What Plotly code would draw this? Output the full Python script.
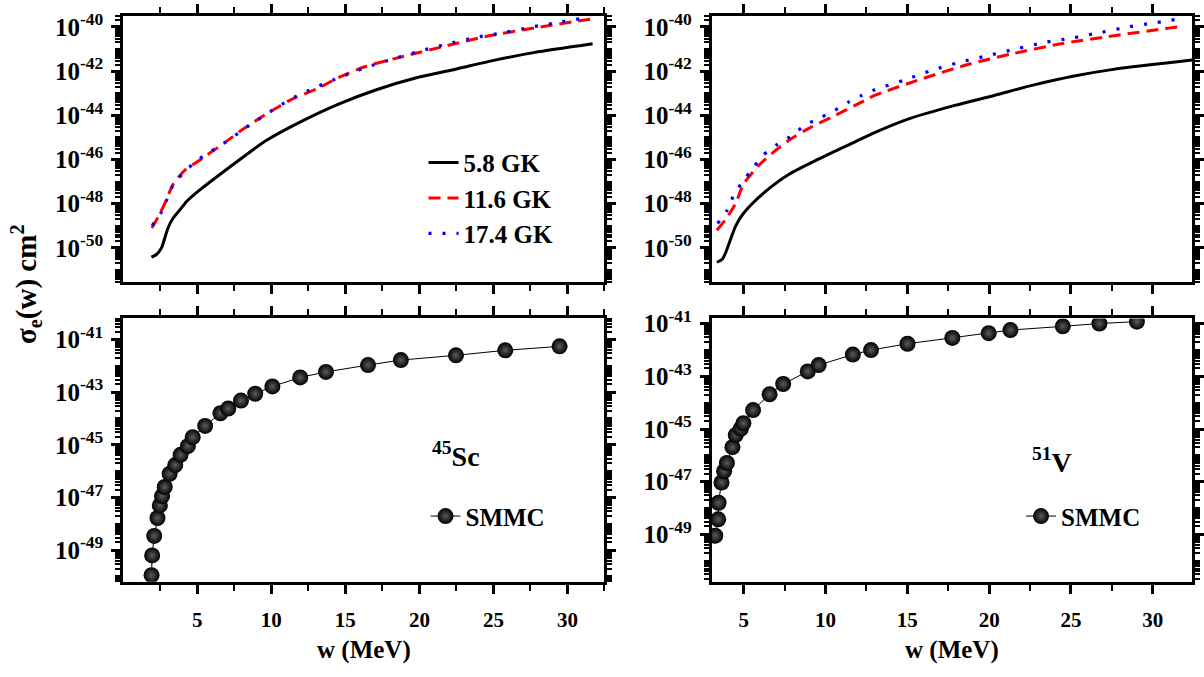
import numpy as np
import plotly.graph_objects as go

# ---------------- data (y values are log10 of sigma in cm^2) -------------
# 45Sc, temperature curves
sc_w_58 = [1.90, 2.24, 2.58, 2.80, 3.02, 3.35, 3.80, 4.25, 5.13, 7.33, 9.60, 11.8, 14.5, 17.1, 19.8, 22.5, 25.1, 27.8, 31.7]
sc_l_58 = [-50.42, -50.30, -50.00, -49.56, -49.10, -48.67, -48.30, -47.92, -47.40, -46.27, -45.16, -44.35, -43.50, -42.84, -42.30, -41.90, -41.50, -41.15, -40.76]

sc_w_116 = [1.93, 2.47, 2.93, 3.33, 4.13, 5.00, 6.93, 7.80, 9.60, 11.6, 13.1, 14.5, 16.3, 19.1, 21.9, 24.7, 27.8, 31.6]
sc_l_116 = [-49.10, -48.45, -47.80, -47.16, -46.50, -46.10, -45.20, -44.76, -43.96, -43.20, -42.80, -42.30, -41.80, -41.30, -40.84, -40.40, -40.04, -39.64]

sc_w_174 = [1.95, 2.53, 2.95, 3.35, 4.13, 5.07, 5.98, 6.95, 7.85, 8.80, 9.75, 10.69, 11.58, 12.53, 14.47, 16.36, 18.25, 20.15, 21.9, 23.8, 25.7, 27.6, 29.5, 31.4]
sc_l_174 = [-48.99, -48.43, -47.80, -47.18, -46.55, -46.00, -45.60, -45.20, -44.77, -44.33, -43.91, -43.51, -43.17, -42.87, -42.32, -41.84, -41.44, -41.07, -40.77, -40.47, -40.25, -40.00, -39.78, -39.56]

# 51V, temperature curves
v_w_58 = [3.36, 3.70, 3.90, 4.20, 4.51, 4.92, 5.53, 6.54, 7.70, 9.80, 11.8, 13.0, 15.0, 17.9, 20.3, 22.75, 25.2, 27.6, 32.4]
v_l_58 = [-50.65, -50.50, -50.20, -49.60, -49.00, -48.50, -47.99, -47.32, -46.70, -45.90, -45.20, -44.78, -44.18, -43.55, -43.10, -42.62, -42.22, -41.92, -41.50]

v_w_116 = [3.36, 3.90, 4.50, 5.00, 6.15, 7.70, 8.95, 10.6, 12.2, 13.0, 16.1, 18.7, 21.5, 24.4, 27.2, 31.9]
v_l_116 = [-49.20, -48.70, -48.00, -47.10, -46.10, -45.16, -44.60, -44.00, -43.40, -43.10, -42.30, -41.70, -41.20, -40.76, -40.44, -39.96]

v_w_174 = [3.40, 4.00, 4.40, 4.94, 5.55, 6.20, 7.07, 7.98, 8.77, 9.70, 10.5, 11.4, 12.2, 13.0, 14.85, 16.5, 18.2, 19.9, 21.6, 23.4, 25.06, 26.8, 28.5, 30.2, 31.95]
v_l_174 = [-48.90, -48.27, -47.60, -47.00, -46.40, -45.80, -45.30, -44.90, -44.44, -44.10, -43.80, -43.40, -43.10, -42.84, -42.40, -41.96, -41.60, -41.30, -41.00, -40.70, -40.50, -40.25, -40.00, -39.80, -39.60]

# SMMC points
sc_smmc_w = [1.91, 1.95, 2.09, 2.31, 2.47, 2.62, 2.80, 3.13, 3.51, 3.87, 4.36, 4.69, 5.53, 6.56, 7.09, 7.95, 8.91, 10.07, 11.95, 13.69, 16.53, 18.75, 22.47, 25.8, 29.47]
sc_smmc_l = [-49.95, -49.20, -48.46, -47.78, -47.30, -46.95, -46.60, -46.10, -45.77, -45.38, -45.05, -44.71, -44.28, -43.80, -43.62, -43.32, -43.06, -42.78, -42.44, -42.23, -41.97, -41.78, -41.60, -41.41, -41.26]

v_smmc_w = [3.26, 3.44, 3.46, 3.64, 3.80, 3.97, 4.31, 4.51, 4.82, 4.98, 5.57, 6.58, 7.41, 8.91, 9.58, 11.67, 12.78, 15.01, 17.75, 19.97, 21.3, 24.5, 26.74, 29.03]
v_smmc_l = [-49.05, -48.43, -47.80, -47.03, -46.60, -46.29, -45.69, -45.23, -44.99, -44.78, -44.28, -43.68, -43.29, -42.81, -42.57, -42.17, -42.00, -41.76, -41.54, -41.36, -41.24, -41.10, -40.99, -40.92]

x_ticks = [5, 10, 15, 20, 25, 30]
x_minor = [2.5, 7.5, 12.5, 17.5, 22.5, 27.5, 32.5]
top_decades = [-40, -42, -44, -46, -48, -50]
bottom_decades = [-41, -43, -45, -47, -49]
temp_names = ["5.8 GK", "11.6 GK", "17.4 GK"]

# ---------------- figure ----------------
FONT = "Liberation Serif"
W, H = 1204, 677


def pv(logs):
    return [10.0 ** v for v in logs]


fig = go.Figure()

line_styles = [
    dict(color="black", width=3),
    dict(color="#ff0000", width=3, dash="12px,7px"),
    dict(color="#0000ff", width=3.2, dash="3px,11px"),
]

for (wv, lv), st, nm in zip([(sc_w_58, sc_l_58), (sc_w_116, sc_l_116), (sc_w_174, sc_l_174)], line_styles, temp_names):
    fig.add_trace(go.Scatter(x=wv, y=pv(lv), mode="lines", name=nm,
                             line=dict(shape="spline", smoothing=0.6, **st),
                             xaxis="x", yaxis="y", legend="legend"))
for (wv, lv), st, nm in zip([(v_w_58, v_l_58), (v_w_116, v_l_116), (v_w_174, v_l_174)], line_styles, temp_names):
    fig.add_trace(go.Scatter(x=wv, y=pv(lv), mode="lines", name=nm, showlegend=False,
                             line=dict(shape="spline", smoothing=0.8, **st),
                             xaxis="x2", yaxis="y2"))

sphere = dict(size=16, color="#000000", gradient=dict(type="radial", color="#5c5c5c"),
              line=dict(width=0))
fig.add_trace(go.Scatter(x=sc_smmc_w, y=pv(sc_smmc_l), mode="lines+markers", name="SMMC",
                         marker=sphere, line=dict(color="black", width=1),
                         xaxis="x3", yaxis="y3", legend="legend2"))
fig.add_trace(go.Scatter(x=v_smmc_w, y=pv(v_smmc_l), mode="lines+markers", name="SMMC",
                         marker=sphere, line=dict(color="black", width=1),
                         xaxis="x4", yaxis="y4", legend="legend3"))

tickfont = dict(family=FONT, size=25, color="black", weight="bold")
xtickfont = dict(family=FONT, size=21, color="black", weight="bold")


def xaxis(domain, rng, labels, anchor):
    return dict(domain=domain, range=rng, anchor=anchor,
                tickmode="array", tickvals=x_ticks, showticklabels=labels,
                ticks="outside", ticklen=9, tickwidth=2.5, tickcolor="black",
                minor=dict(tickvals=x_minor, ticks="outside", ticklen=6, tickwidth=2, tickcolor="black"),
                showline=True, linewidth=3, linecolor="black", mirror="allticks",
                showgrid=False, zeroline=False, tickfont=xtickfont, ticklabelstandoff=8)


def yaxis(domain, rng, decades, anchor):
    minor_vals = []
    for k in range(-53, -37):
        for m in range(1, 10):
            if m == 1 and k in decades:
                continue
            minor_vals.append(m * 10.0 ** k)
    return dict(domain=domain, range=rng, type="log", anchor=anchor,
                tickmode="array", tickvals=[10.0 ** d for d in decades],
                ticktext=["10<sup>%d</sup>" % d for d in decades],
                ticks="outside", ticklen=9, tickwidth=2.5, tickcolor="black",
                minor=dict(tickvals=minor_vals, ticks="outside", ticklen=5, tickwidth=1.5, tickcolor="black"),
                showline=True, linewidth=3, linecolor="black", mirror="allticks",
                showgrid=False, zeroline=False, tickfont=tickfont, ticklabelstandoff=3)


xl = [124 / W, 608 / W]
xr = [716 / W, 1199 / W]
yt = [1 - 275 / H, 1 - 4 / H]
yb = [1 - 580 / H, 1 - 312 / H]

fig.update_layout(
    width=W, height=H, margin=dict(l=0, r=0, t=0, b=0),
    paper_bgcolor="white", plot_bgcolor="white",
    font=dict(family=FONT, color="black"),
    xaxis=xaxis(xl, [0, 32.5], False, "y"),
    yaxis=yaxis(yt, [-51.55, -39.5], top_decades, "x"),
    xaxis2=xaxis(xr, [3.05, 32.4], False, "y2"),
    yaxis2=yaxis(yt, [-51.55, -39.5], top_decades, "x2"),
    xaxis3=xaxis(xl, [0, 32.5], True, "y3"),
    yaxis3=yaxis(yb, [-50.2, -40.2], bottom_decades, "x3"),
    xaxis4=xaxis(xr, [3.05, 32.4], True, "y4"),
    yaxis4=yaxis(yb, [-50.8, -40.8], bottom_decades, "x4"),
    legend=dict(x=426 / W, y=1 - 130 / H, xanchor="left", yanchor="top",
                bgcolor="rgba(0,0,0,0)", font=dict(family=FONT, size=25, weight="bold"),
                tracegroupgap=0, itemwidth=30),
    legend2=dict(x=428 / W, y=1 - 490 / H, xanchor="left", yanchor="top",
                 bgcolor="rgba(0,0,0,0)", font=dict(family=FONT, size=25, weight="bold"),
                 itemsizing="trace"),
    legend3=dict(x=1027 / W, y=1 - 490 / H, xanchor="left", yanchor="top",
                 bgcolor="rgba(0,0,0,0)", font=dict(family=FONT, size=25, weight="bold"),
                 itemsizing="trace"),
    showlegend=True,
)

ann_font = dict(family=FONT, size=25, color="black", weight="bold")
fig.add_annotation(text="w (MeV)", x=(xl[0] + xl[1]) / 2, y=1 - 650 / H, xref="paper", yref="paper",
                   showarrow=False, font=ann_font, xanchor="center", yanchor="middle")
fig.add_annotation(text="w (MeV)", x=(xr[0] + xr[1]) / 2, y=1 - 650 / H, xref="paper", yref="paper",
                   showarrow=False, font=ann_font, xanchor="center", yanchor="middle")
fig.add_annotation(text="σ<sub>e</sub>(w) cm<sup>2</sup>", x=26 / W, y=1 - 277 / H, xref="paper", yref="paper",
                   showarrow=False, textangle=-90, font=dict(family=FONT, size=29, color="black", weight="bold"),
                   xanchor="center", yanchor="middle")
fig.add_annotation(text="<sup>45</sup>Sc", x=459 / W, y=1 - 450 / H, xref="paper", yref="paper",
                   showarrow=False, font=dict(family=FONT, size=28, color="black", weight="bold"),
                   xanchor="center", yanchor="middle")
fig.add_annotation(text="<sup>51</sup>V", x=1058 / W, y=1 - 457 / H, xref="paper", yref="paper",
                   showarrow=False, font=dict(family=FONT, size=28, color="black", weight="bold"),
                   xanchor="center", yanchor="middle")

fig.write_html("out.html")
